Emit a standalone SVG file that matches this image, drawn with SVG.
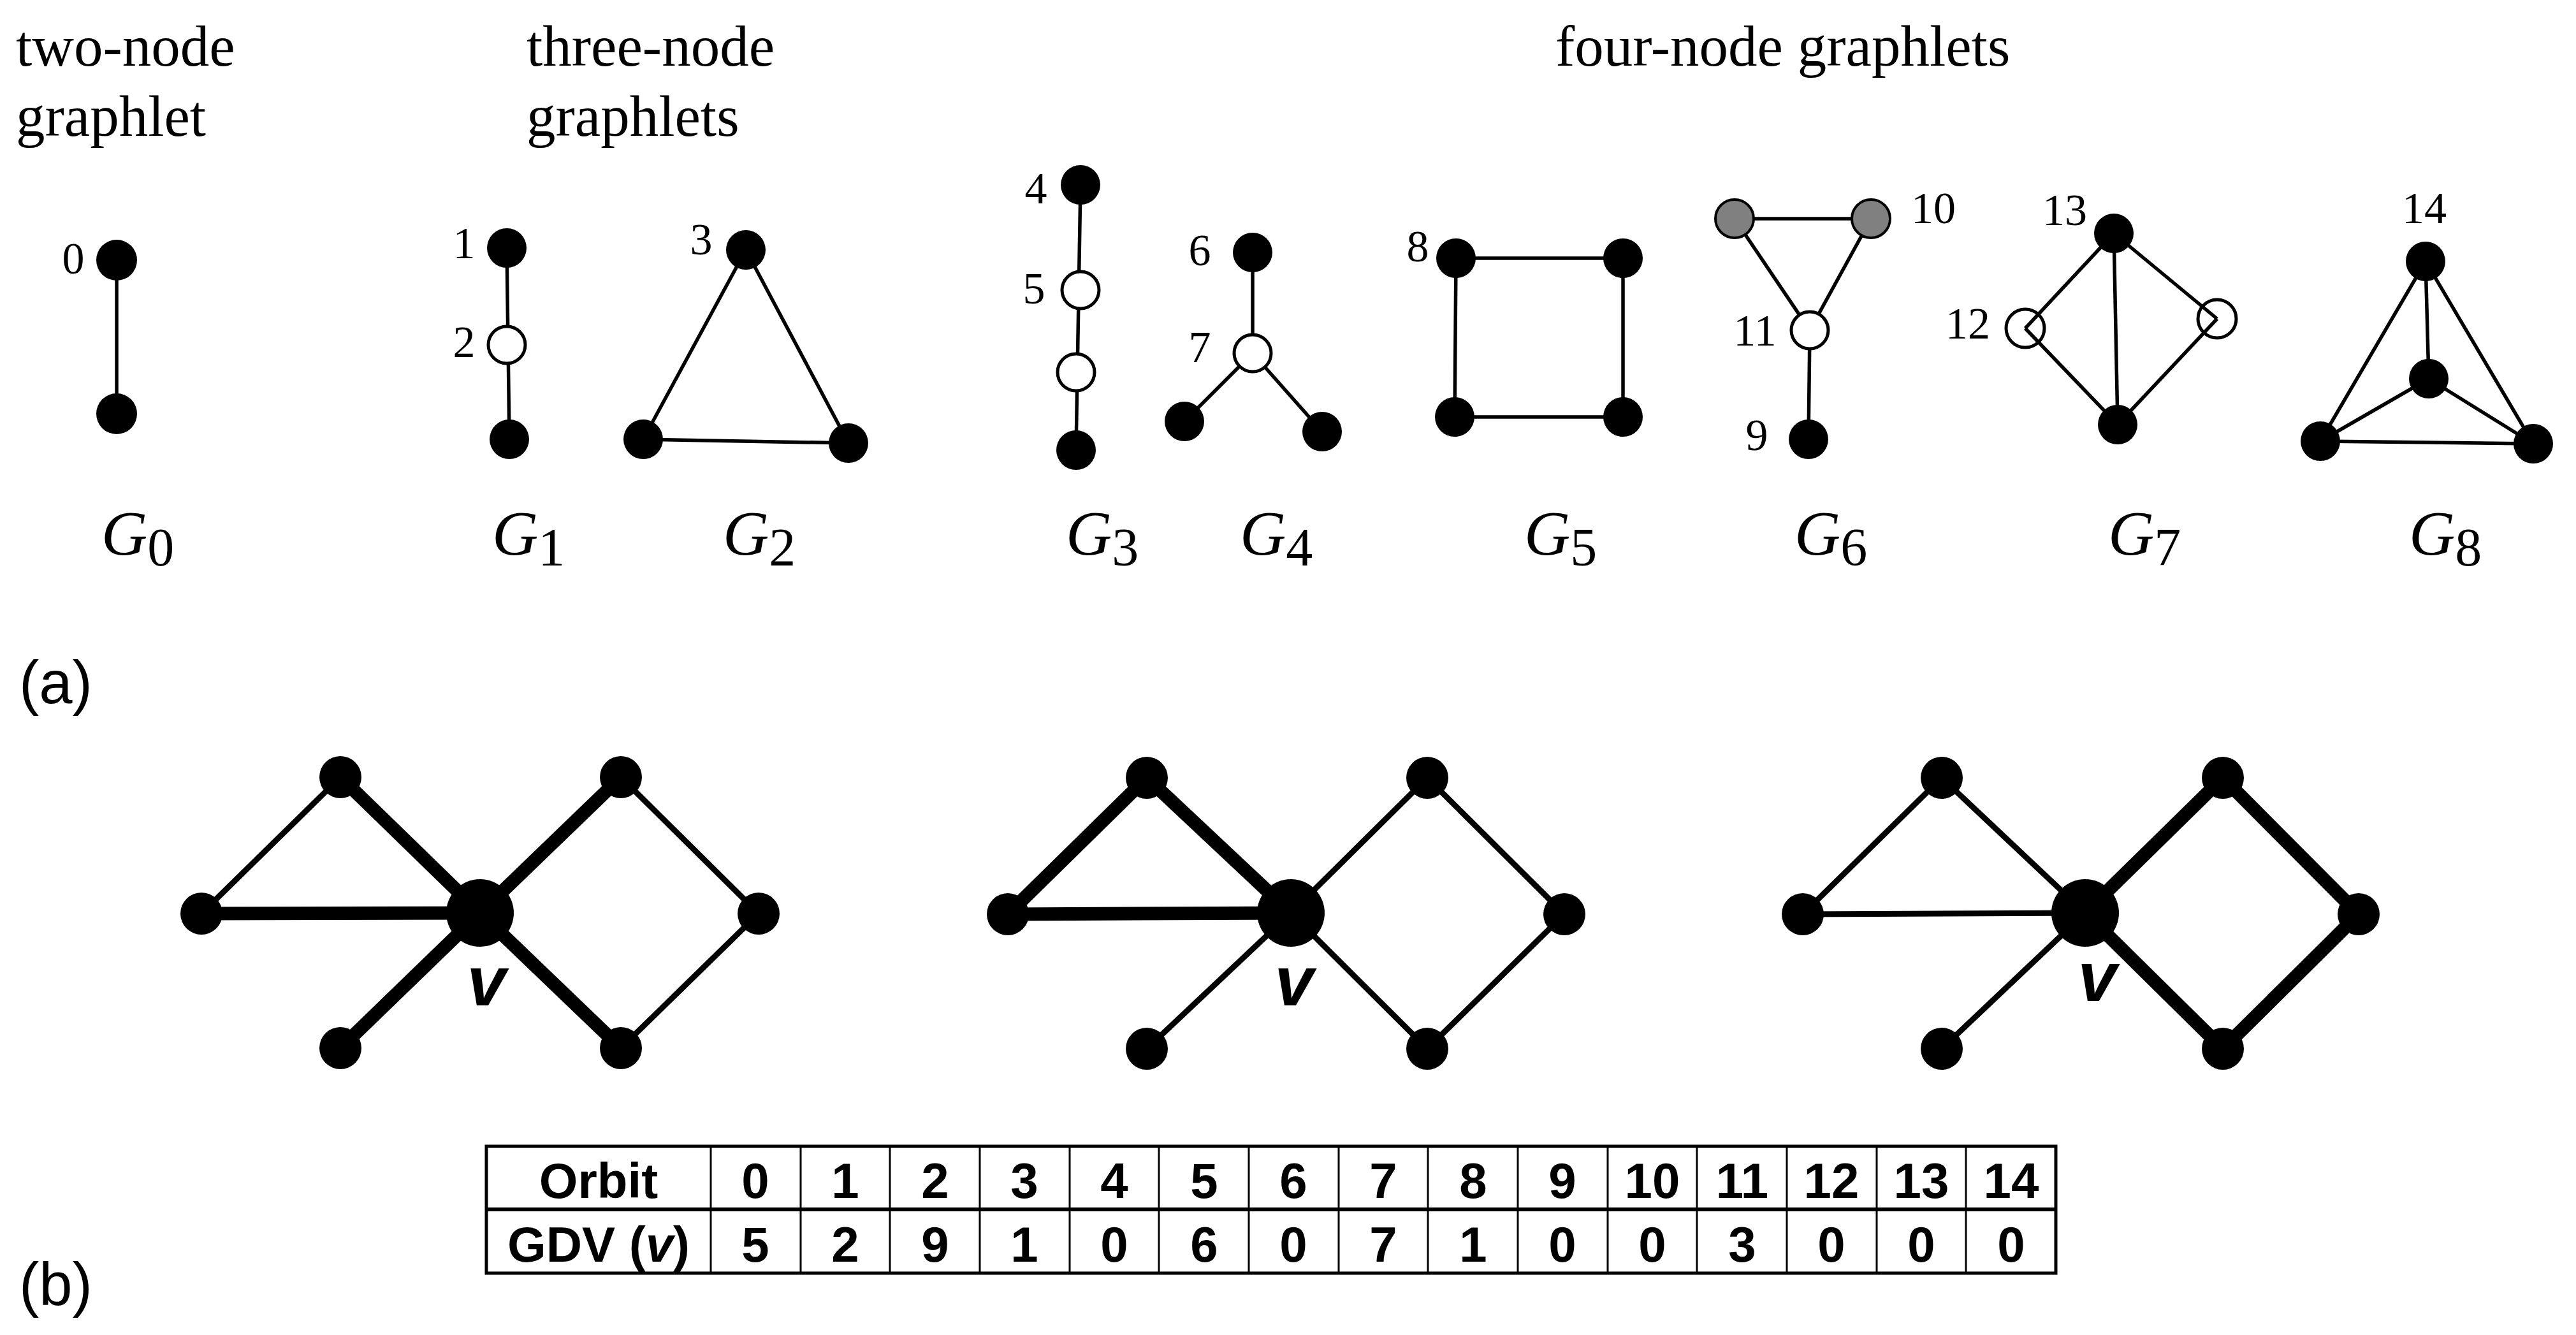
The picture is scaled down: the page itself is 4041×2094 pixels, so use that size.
<svg xmlns="http://www.w3.org/2000/svg" width="4041" height="2094" viewBox="0 0 4041 2094">
<style>
.f{fill:#000}
.o{fill:#fff;stroke:#000;stroke-width:5}
.on{fill:none;stroke:#000;stroke-width:5}
.g{fill:#808080;stroke:#000;stroke-width:4}
.e line{stroke:#000;stroke-width:5.5}
.thin{stroke:#000;stroke-width:9}
.thick{stroke:#000;stroke-width:21}
.lbl{font-family:"Liberation Serif","Times New Roman",serif;font-size:70px;text-anchor:middle;fill:#000}
.head{font-family:"Liberation Serif","Times New Roman",serif;font-size:91px;fill:#000}
.gl{font-family:"Liberation Serif","Times New Roman",serif;font-size:100px;font-style:italic;fill:#000}
.sub{font-style:normal;font-size:84px}
.pl{font-family:"Liberation Sans",Arial,sans-serif;font-size:94px;fill:#000}
.vl{font-family:"Liberation Sans",Arial,sans-serif;font-size:110px;font-weight:bold;font-style:italic;text-anchor:middle;fill:#000}
.tb{font-family:"Liberation Sans",Arial,sans-serif;font-size:78px;font-weight:bold;text-anchor:middle;fill:#000}
.grid line{stroke:#000;stroke-width:3}
.frame{fill:none;stroke:#000;stroke-width:5}
</style>
<rect width="4041" height="2094" fill="#fff"/>

<!-- headings -->
<g id="headings">
<text class="head" x="25" y="103">two-node</text>
<text class="head" x="25" y="213">graphlet</text>
<text class="head" x="826" y="103">three-node</text>
<text class="head" x="826" y="213">graphlets</text>
<text class="head" x="2440" y="103">four-node graphlets</text>
</g>

<!-- connectors of graphlets -->
<g id="connectors-top" class="e">
<line x1="183" y1="408" x2="183" y2="649"/>
<line x1="795" y1="389" x2="799" y2="689"/>
<line x1="1170" y1="392" x2="1009" y2="689"/>
<line x1="1170" y1="392" x2="1331" y2="695"/>
<line x1="1009" y1="689" x2="1331" y2="695"/>
<line x1="1695" y1="290" x2="1688" y2="706"/>
<line x1="1965" y1="396" x2="1965" y2="554"/>
<line x1="1965" y1="554" x2="1858" y2="661"/>
<line x1="1965" y1="554" x2="2074" y2="677"/>
<line x1="2284" y1="405" x2="2546" y2="405"/>
<line x1="2546" y1="405" x2="2546" y2="654"/>
<line x1="2546" y1="654" x2="2282" y2="654"/>
<line x1="2282" y1="654" x2="2284" y2="405"/>
<line x1="2721" y1="343" x2="2935" y2="343"/>
<line x1="2721" y1="343" x2="2839" y2="518"/>
<line x1="2935" y1="343" x2="2839" y2="518"/>
<line x1="2839" y1="518" x2="2837" y2="689"/>
<line x1="3316" y1="366" x2="3177" y2="515"/>
<line x1="3316" y1="366" x2="3478" y2="500"/>
<line x1="3316" y1="366" x2="3322" y2="666"/>
<line x1="3177" y1="515" x2="3322" y2="666"/>
<line x1="3478" y1="500" x2="3322" y2="666"/>
<line x1="3805" y1="410" x2="3810" y2="594"/>
<line x1="3805" y1="410" x2="3640" y2="692"/>
<line x1="3805" y1="410" x2="3974" y2="696"/>
<line x1="3810" y1="594" x2="3640" y2="692"/>
<line x1="3810" y1="594" x2="3974" y2="696"/>
<line x1="3640" y1="692" x2="3974" y2="696"/>
</g>

<!-- G0 -->
<g id="G0">
<g id="n0"><circle class="f" cx="183" cy="408" r="32"/><text class="lbl" x="115" y="429">0</text></g>
<g id="G0-b"><circle class="f" cx="183" cy="649" r="32"/></g>
<text class="gl" x="159" y="870">G<tspan class="sub" dy="17">0</tspan></text>
</g>

<!-- G1 -->
<g id="G1">
<g id="n1"><circle class="f" cx="795" cy="389" r="31"/><text class="lbl" x="728" y="405">1</text></g>
<g id="n2"><circle class="o" cx="795" cy="541" r="29"/><text class="lbl" x="728" y="560">2</text></g>
<g id="G1-b"><circle class="f" cx="799" cy="689" r="31"/></g>
<text class="gl" x="772" y="870">G<tspan class="sub" dy="17">1</tspan></text>
</g>

<!-- G2 -->
<g id="G2">
<g id="n3"><circle class="f" cx="1170" cy="392" r="31"/><text class="lbl" x="1100" y="399">3</text></g>
<g id="G2-bl"><circle class="f" cx="1009" cy="689" r="31"/></g>
<g id="G2-br"><circle class="f" cx="1331" cy="695" r="31"/></g>
<text class="gl" x="1134" y="870">G<tspan class="sub" dy="17">2</tspan></text>
</g>

<!-- G3 -->
<g id="G3">
<g id="n4"><circle class="f" cx="1695" cy="290" r="31"/><text class="lbl" x="1625" y="319">4</text></g>
<g id="n5"><circle class="o" cx="1695" cy="455" r="29"/><text class="lbl" x="1622" y="476">5</text></g>
<g id="G3-c"><circle class="o" cx="1688" cy="584" r="29"/></g>
<g id="G3-d"><circle class="f" cx="1688" cy="706" r="31"/></g>
<text class="gl" x="1672" y="870">G<tspan class="sub" dy="17">3</tspan></text>
</g>

<!-- G4 -->
<g id="G4">
<g id="n6"><circle class="f" cx="1965" cy="396" r="31"/><text class="lbl" x="1882" y="416">6</text></g>
<g id="n7"><circle class="o" cx="1965" cy="554" r="29"/><text class="lbl" x="1882" y="568">7</text></g>
<g id="G4-bl"><circle class="f" cx="1858" cy="661" r="31"/></g>
<g id="G4-br"><circle class="f" cx="2074" cy="677" r="31"/></g>
<text class="gl" x="1945" y="870">G<tspan class="sub" dy="17">4</tspan></text>
</g>

<!-- G5 -->
<g id="G5">
<g id="n8"><circle class="f" cx="2284" cy="405" r="31"/><text class="lbl" x="2224" y="410">8</text></g>
<g id="G5-tr"><circle class="f" cx="2546" cy="405" r="31"/></g>
<g id="G5-bl"><circle class="f" cx="2282" cy="654" r="31"/></g>
<g id="G5-br"><circle class="f" cx="2546" cy="654" r="31"/></g>
<text class="gl" x="2391" y="870">G<tspan class="sub" dy="17">5</tspan></text>
</g>

<!-- G6 -->
<g id="G6">
<g id="G6-l"><circle class="g" cx="2721" cy="343" r="30"/></g>
<g id="n10"><circle class="g" cx="2935" cy="343" r="30"/><text class="lbl" x="3033" y="350">10</text></g>
<g id="n11"><circle class="o" cx="2839" cy="518" r="29"/><text class="lbl" x="2753" y="542">11</text></g>
<g id="n9"><circle class="f" cx="2837" cy="689" r="31"/><text class="lbl" x="2756" y="706">9</text></g>
<text class="gl" x="2815" y="870">G<tspan class="sub" dy="17">6</tspan></text>
</g>

<!-- G7 -->
<g id="G7">
<g id="n13"><circle class="f" cx="3316" cy="366" r="31"/><text class="lbl" x="3239" y="353">13</text></g>
<g id="n12"><circle class="on" cx="3177" cy="515" r="30"/><text class="lbl" x="3087" y="531">12</text></g>
<g id="G7-r"><circle class="on" cx="3478" cy="500" r="30"/></g>
<g id="G7-b"><circle class="f" cx="3322" cy="666" r="31"/></g>
<text class="gl" x="3307" y="870">G<tspan class="sub" dy="17">7</tspan></text>
</g>

<!-- G8 -->
<g id="G8">
<g id="n14"><circle class="f" cx="3805" cy="410" r="31"/><text class="lbl" x="3803" y="350">14</text></g>
<g id="G8-c"><circle class="f" cx="3810" cy="594" r="31"/></g>
<g id="G8-bl"><circle class="f" cx="3640" cy="692" r="31"/></g>
<g id="G8-br"><circle class="f" cx="3974" cy="696" r="31"/></g>
<text class="gl" x="3779" y="870">G<tspan class="sub" dy="17">8</tspan></text>
</g>

<text class="pl" x="30" y="1103">(a)</text>
<text class="pl" x="30" y="2047">(b)</text>

<!-- bottom connectors -->
<g id="connectors-bottom">
<!-- graph 1 -->
<line class="thin" x1="316" y1="1433" x2="534" y2="1219"/>
<line class="thick" x1="316" y1="1433" x2="753" y2="1432"/>
<line class="thick" x1="534" y1="1219" x2="753" y2="1432"/>
<line class="thick" x1="753" y1="1432" x2="974" y2="1219"/>
<line class="thin" x1="974" y1="1219" x2="1190" y2="1433"/>
<line class="thin" x1="1190" y1="1433" x2="974" y2="1644"/>
<line class="thick" x1="974" y1="1644" x2="753" y2="1432"/>
<line class="thick" x1="753" y1="1432" x2="534" y2="1644"/>
<!-- graph 2 -->
<line class="thick" x1="1581" y1="1434" x2="1799" y2="1220"/>
<line class="thick" x1="1581" y1="1434" x2="2025" y2="1432"/>
<line class="thick" x1="1799" y1="1220" x2="2025" y2="1432"/>
<line class="thin" x1="2025" y1="1432" x2="2239" y2="1220"/>
<line class="thin" x1="2239" y1="1220" x2="2454" y2="1434"/>
<line class="thin" x1="2454" y1="1434" x2="2239" y2="1645"/>
<line class="thin" x1="2239" y1="1645" x2="2025" y2="1432"/>
<line class="thin" x1="2025" y1="1432" x2="1799" y2="1645"/>
<!-- graph 3 -->
<line class="thin" x1="2828" y1="1434" x2="3046" y2="1220"/>
<line class="thin" x1="2828" y1="1434" x2="3271" y2="1432"/>
<line class="thin" x1="3046" y1="1220" x2="3271" y2="1432"/>
<line class="thick" x1="3271" y1="1432" x2="3487" y2="1220"/>
<line class="thick" x1="3487" y1="1220" x2="3700" y2="1434"/>
<line class="thick" x1="3700" y1="1434" x2="3487" y2="1645"/>
<line class="thick" x1="3487" y1="1645" x2="3271" y2="1432"/>
<line class="thin" x1="3271" y1="1432" x2="3046" y2="1645"/>
</g>

<!-- graph 1 nodes -->
<g id="net1">
<g id="net1-L"><circle class="f" cx="316" cy="1433" r="33"/></g>
<g id="net1-TL"><circle class="f" cx="534" cy="1219" r="33"/></g>
<g id="net1-TR"><circle class="f" cx="974" cy="1219" r="33"/></g>
<g id="net1-R"><circle class="f" cx="1190" cy="1433" r="33"/></g>
<g id="net1-BL"><circle class="f" cx="534" cy="1644" r="33"/></g>
<g id="net1-BR"><circle class="f" cx="974" cy="1644" r="33"/></g>
<g id="net1-v"><circle class="f" cx="753" cy="1432" r="53"/><text class="vl" x="763" y="1577">v</text></g>
</g>

<!-- graph 2 nodes -->
<g id="net2">
<g id="net2-L"><circle class="f" cx="1581" cy="1434" r="33"/></g>
<g id="net2-TL"><circle class="f" cx="1799" cy="1220" r="33"/></g>
<g id="net2-TR"><circle class="f" cx="2239" cy="1220" r="33"/></g>
<g id="net2-R"><circle class="f" cx="2454" cy="1434" r="33"/></g>
<g id="net2-BL"><circle class="f" cx="1799" cy="1645" r="33"/></g>
<g id="net2-BR"><circle class="f" cx="2239" cy="1645" r="33"/></g>
<g id="net2-v"><circle class="f" cx="2025" cy="1432" r="53"/><text class="vl" x="2030" y="1577">v</text></g>
</g>

<!-- graph 3 nodes -->
<g id="net3">
<g id="net3-L"><circle class="f" cx="2828" cy="1434" r="33"/></g>
<g id="net3-TL"><circle class="f" cx="3046" cy="1220" r="33"/></g>
<g id="net3-TR"><circle class="f" cx="3487" cy="1220" r="33"/></g>
<g id="net3-R"><circle class="f" cx="3700" cy="1434" r="33"/></g>
<g id="net3-BL"><circle class="f" cx="3046" cy="1645" r="33"/></g>
<g id="net3-BR"><circle class="f" cx="3487" cy="1645" r="33"/></g>
<g id="net3-v"><circle class="f" cx="3271" cy="1432" r="53"/><text class="vl" x="3290" y="1570">v</text></g>
</g>

<!-- table -->
<g id="table">
<g class="grid">
<line x1="1115" y1="1798" x2="1115" y2="1997"/>
<line x1="1256" y1="1798" x2="1256" y2="1997"/>
<line x1="1396" y1="1798" x2="1396" y2="1997"/>
<line x1="1537" y1="1798" x2="1537" y2="1997"/>
<line x1="1678" y1="1798" x2="1678" y2="1997"/>
<line x1="1818" y1="1798" x2="1818" y2="1997"/>
<line x1="1959" y1="1798" x2="1959" y2="1997"/>
<line x1="2100" y1="1798" x2="2100" y2="1997"/>
<line x1="2240" y1="1798" x2="2240" y2="1997"/>
<line x1="2381" y1="1798" x2="2381" y2="1997"/>
<line x1="2522" y1="1798" x2="2522" y2="1997"/>
<line x1="2662" y1="1798" x2="2662" y2="1997"/>
<line x1="2803" y1="1798" x2="2803" y2="1997"/>
<line x1="2944" y1="1798" x2="2944" y2="1997"/>
<line x1="3084" y1="1798" x2="3084" y2="1997"/>
</g>
<line x1="763" y1="1897" x2="3225" y2="1897" stroke="#000" stroke-width="6"/>
<rect class="frame" x="763" y="1798" width="2462" height="199"/>
<text class="tb" x="939" y="1879">Orbit</text>
<text class="tb" x="939" y="1979">GDV (<tspan font-style="italic">v</tspan>)</text>
<g>
<text class="tb" x="1185" y="1879">0</text><text class="tb" x="1185" y="1979">5</text>
<text class="tb" x="1326" y="1879">1</text><text class="tb" x="1326" y="1979">2</text>
<text class="tb" x="1467" y="1879">2</text><text class="tb" x="1467" y="1979">9</text>
<text class="tb" x="1607" y="1879">3</text><text class="tb" x="1607" y="1979">1</text>
<text class="tb" x="1748" y="1879">4</text><text class="tb" x="1748" y="1979">0</text>
<text class="tb" x="1889" y="1879">5</text><text class="tb" x="1889" y="1979">6</text>
<text class="tb" x="2029" y="1879">6</text><text class="tb" x="2029" y="1979">0</text>
<text class="tb" x="2170" y="1879">7</text><text class="tb" x="2170" y="1979">7</text>
<text class="tb" x="2311" y="1879">8</text><text class="tb" x="2311" y="1979">1</text>
<text class="tb" x="2451" y="1879">9</text><text class="tb" x="2451" y="1979">0</text>
<text class="tb" x="2592" y="1879">10</text><text class="tb" x="2592" y="1979">0</text>
<text class="tb" x="2733" y="1879">11</text><text class="tb" x="2733" y="1979">3</text>
<text class="tb" x="2873" y="1879">12</text><text class="tb" x="2873" y="1979">0</text>
<text class="tb" x="3014" y="1879">13</text><text class="tb" x="3014" y="1979">0</text>
<text class="tb" x="3155" y="1879">14</text><text class="tb" x="3155" y="1979">0</text>
</g>
</g>
</svg>
